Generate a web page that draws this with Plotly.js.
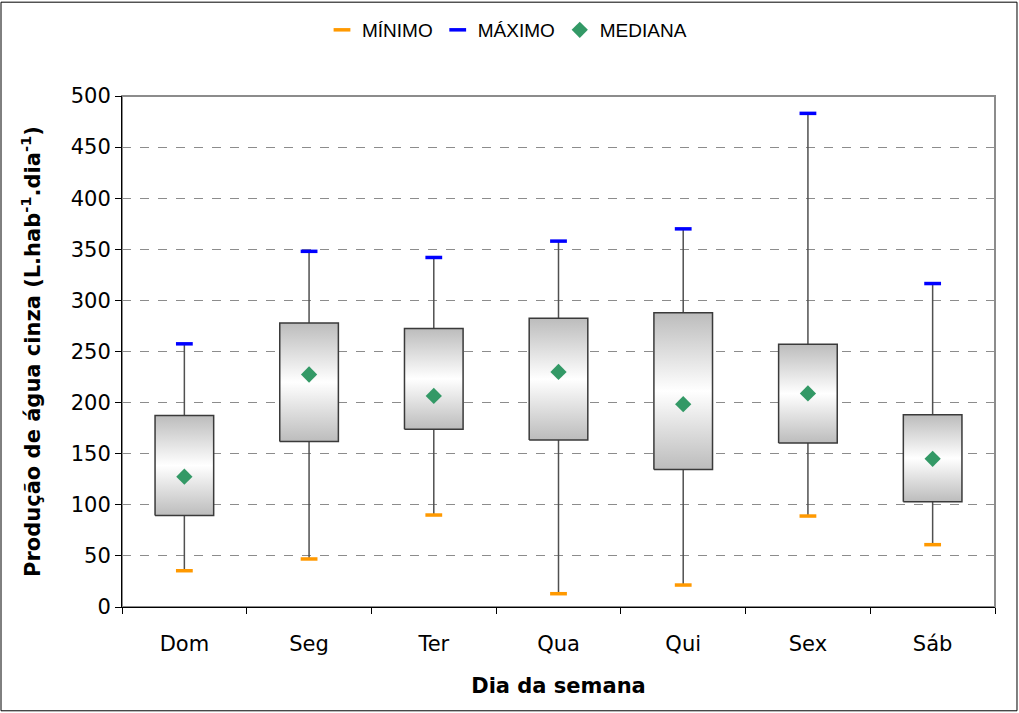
<!DOCTYPE html>
<html>
<head>
<meta charset="utf-8">
<script src="https://cdn.plot.ly/plotly-3.0.1.min.js"></script>
<style>
  body { margin: 0; background: #fff; }
  #chart { width: 1019px; height: 713px; }
</style>
</head>
<body>
<div id="chart"></div>
<script>
// dados
var dias = ["Dom", "Seg", "Ter", "Qua", "Qui", "Sex", "Sáb"];
var minimo = [35.5, 47, 90, 13, 21.5, 89, 61];
var q1 = [89.5, 162, 174, 163.5, 134.5, 160.5, 103];
var mediana = [127.5, 227.5, 206.5, 230, 198.5, 209, 145];
var q3 = [187.5, 278, 272.5, 282.5, 288, 257, 188];
var maximo = [257.5, 348, 342, 358, 370, 483, 316.5];

var pos = dias.map(function (d, i) { return i; });
var meia = 0.235;
var traces = [];

// bigodes (min -> max)
var wx = [], wy = [];
pos.forEach(function (p, i) {
    wx.push(p, p, null);
    wy.push(minimo[i], maximo[i], null);
});
traces.push({
    x: wx, y: wy, mode: "lines", type: "scatter",
    line: {color: "#505050", width: 1.5},
    showlegend: false, hoverinfo: "skip"
});

// caixas com gradiente vertical
pos.forEach(function (p, i) {
    traces.push({
        x: [p - meia, p + meia, p + meia, p - meia, p - meia],
        y: [q1[i], q1[i], q3[i], q3[i], q1[i]],
        mode: "lines", type: "scatter", fill: "toself",
        fillgradient: {
            type: "vertical",
            colorscale: [[0, "#bcbcbc"], [0.5, "#ffffff"], [1, "#bcbcbc"]]
        },
        line: {color: "#3a3a3a", width: 1.5},
        showlegend: false, hoverinfo: "skip"
    });
});

traces.push({
    x: pos, y: minimo, mode: "markers", type: "scatter", name: "MÍNIMO",
    marker: {symbol: "line-ew", size: 12, line: {color: "#ff9900", width: 3.5}}
});
traces.push({
    x: pos, y: maximo, mode: "markers", type: "scatter", name: "MÁXIMO",
    marker: {symbol: "line-ew", size: 12, line: {color: "#0000ff", width: 3.5}}
});
traces.push({
    x: pos, y: mediana, mode: "markers", type: "scatter", name: "MEDIANA",
    marker: {symbol: "diamond", size: 12.5, color: "#339966"}
});

var layout = {
    width: 1019, height: 713,
    margin: {l: 122, r: 24, t: 95, b: 106},
    paper_bgcolor: "#fff", plot_bgcolor: "#fff",
    font: {family: "DejaVu Sans, sans-serif", size: 21, color: "#000"},
    showlegend: true,
    legend: {
        orientation: "h", x: 0.441, xanchor: "center", y: 1.127, yanchor: "middle",
        font: {family: "Liberation Sans, Arial, sans-serif", size: 19}, itemwidth: 30, tracegroupgap: 0
    },
    xaxis: {
        range: [-0.5, 6.5], tickvals: pos, ticktext: dias, ticks: "",
        ticklabelstandoff: 18,
        showgrid: false, zeroline: false,
        showline: true, linecolor: "#000", linewidth: 1,
        minor: {tick0: 0.5, dtick: 1, ticks: "outside", ticklen: 6, tickcolor: "#000", showgrid: false},
        title: {text: "<b>Dia da semana</b>", font: {size: 21}, standoff: 23},
        automargin: false
    },
    yaxis: {
        range: [0, 500], dtick: 50, ticks: "outside", ticklen: 6, tickcolor: "#000",
        showgrid: true, gridcolor: "#8c8c8c", gridwidth: 1, griddash: "dash",
        zeroline: false, showline: true, linecolor: "#000", linewidth: 1,
        title: {text: "<b>Produção de água cinza (L.hab<sup>-1</sup>.dia<sup>-1</sup>)</b>", font: {size: 21}, standoff: 24},
        automargin: false
    },
    shapes: [
        {type: "rect", xref: "paper", yref: "paper", x0: 0, x1: 1, y0: 0, y1: 1,
         line: {color: "#8c8c8c", width: 2}, layer: "below"},
        {type: "rect", xref: "paper", yref: "paper", x0: -0.1386, x1: 1.0252, y0: -0.2031, y1: 1.1836,
         line: {color: "#000", width: 1}}
    ]
};

Plotly.newPlot("chart", traces, layout, {displayModeBar: false, staticPlot: true});
</script>
</body>
</html>
